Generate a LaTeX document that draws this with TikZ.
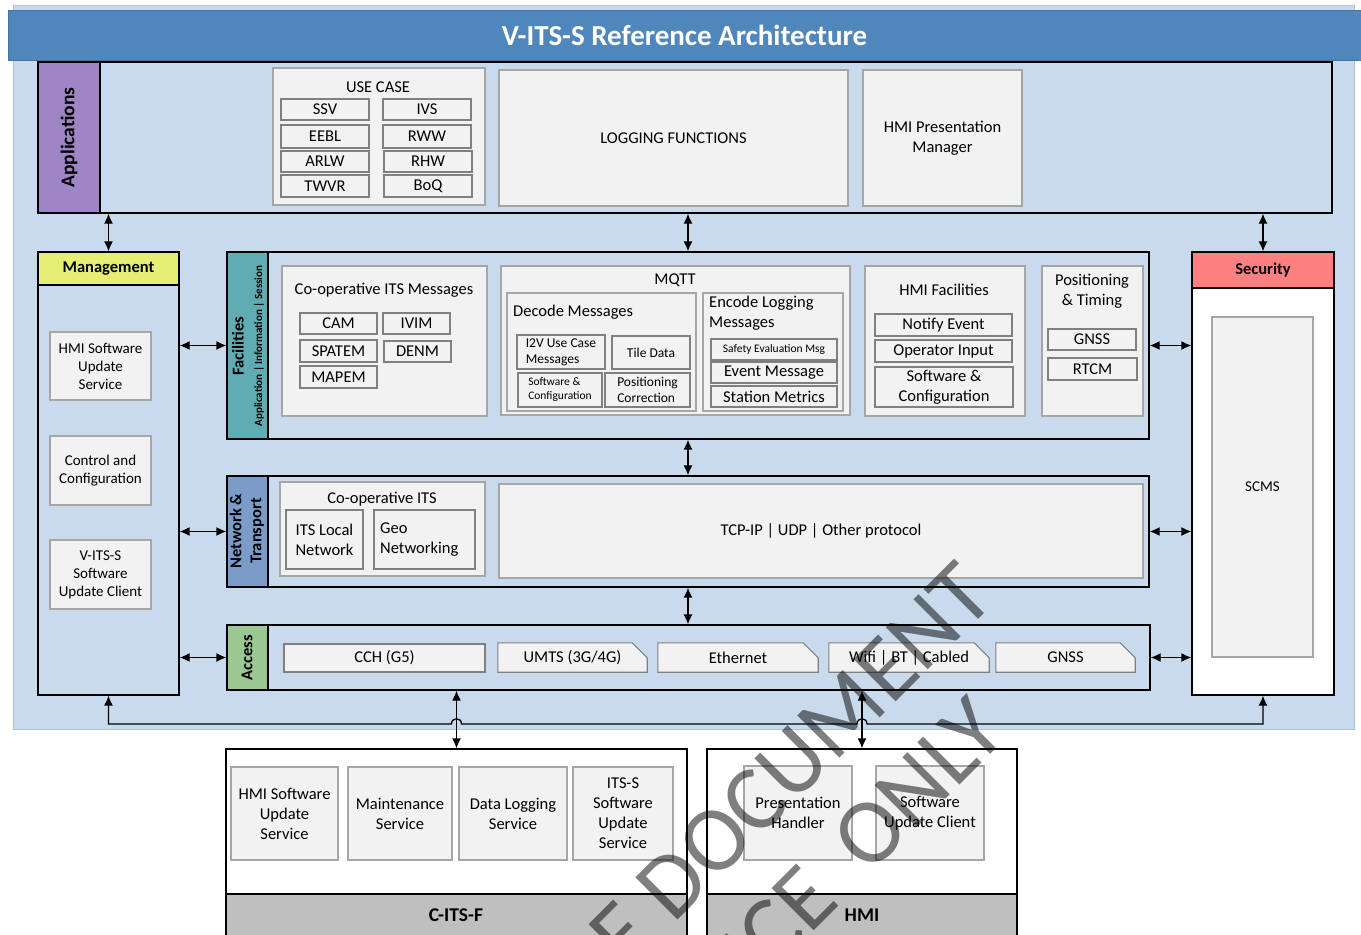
\documentclass[tikz,border=0pt]{standalone}
\usepackage{fontspec}
\setmainfont{Carlito}
\usetikzlibrary{arrows.meta,fit,calc}

\definecolor{bgblue}{RGB}{200,218,235}
\definecolor{bgline}{RGB}{170,196,226}
\definecolor{titleblue}{RGB}{79,135,189}
\definecolor{boxfill}{RGB}{242,242,242}
\definecolor{boxline}{RGB}{166,166,166}
\definecolor{subline}{RGB}{128,128,128}
\definecolor{appcol}{RGB}{158,133,197}
\definecolor{mgmtcol}{RGB}{230,238,115}
\definecolor{faccol}{RGB}{95,172,178}
\definecolor{netcol}{RGB}{123,156,200}
\definecolor{acccol}{RGB}{155,199,147}
\definecolor{seccol}{RGB}{255,128,128}
\definecolor{footcol}{RGB}{191,191,191}

\newcommand\ftitle{\fontsize{29}{34}\selectfont\bfseries}
\newcommand\ftxt{\fontsize{16.5}{20}\selectfont}
\newcommand\fmgm{\fontsize{15}{18}\selectfont}
\newcommand\fmid{\fontsize{13.5}{16}\selectfont}
\newcommand\fsml{\fontsize{11.5}{14}\selectfont}
\newcommand\fsess{\fontsize{11}{13}\selectfont\bfseries}
\newcommand\flab{\fontsize{19.5}{23}\selectfont\bfseries}
\newcommand\fwm{\fontsize{93}{100}\selectfont}

\tikzset{
  layer/.style={draw=black, line width=1.3pt, fill=bgblue, inner sep=0pt},
  strip/.style={draw=black, line width=1.3pt, inner sep=0pt},
  whitebox/.style={draw=black, line width=1.3pt, fill=white, inner sep=0pt},
  cont/.style={draw=boxline, line width=1.3pt, fill=boxfill, inner sep=0pt},
  item/.style={draw=subline, line width=1.1pt, fill=boxfill, inner sep=0pt},
  snipbox/.style={draw=subline, line width=1.1pt, fill=boxfill},
  lbl/.style={inner sep=0pt, font=\ftxt, align=center},
  biarrow/.style={line width=1.3pt, arrows={Latex[length=10pt,width=9pt]-Latex[length=10pt,width=9pt]}},
  wmark/.style={font=\fwm, text=black, opacity=0.5, rotate=45, anchor=base east, inner sep=0pt}
}

% box drawn from two corners, with its text centred on it
\newcommand\mkbox[5][]{%
  \node[#2, fit={#3}] (#4) {};
  \node[lbl,#1] at (#4.center) {#5};}

\begin{document}
\begin{tikzpicture}[x=1pt,y=-1pt]
\useasboundingbox (0,0) rectangle (1361,935);
\clip (0,0) rectangle (1361,935);
\fill[white] (0,0) rectangle (1361,935);

% background
\filldraw[fill=bgblue, draw=bgline, line width=1pt] (13,5) rectangle (1354,729);

% title bar
\node[fit={(8,10) (1361,60)}, inner sep=0pt, fill=titleblue, draw=titleblue!85!black, line width=0.6pt] (title) {};
\node[lbl, text=white, font=\ftitle] at (title.center) {V-ITS-S Reference Architecture};

% ---------------- Applications ----------------
\node[layer, fit={(38,62) (1332,213)}] (app) {};
\node[strip, fill=appcol, fit={(38,62) (100,213)}] (appstrip) {};
\node[rotate=90, font=\flab, inner sep=0pt] (applbl) at (appstrip.center) {Applications};

\node[cont, fit={(273,68) (485,205)}] (uc) {};
\node[lbl] (uclbl) at (378,87) {USE CASE};
\mkbox{item}{(281,99) (369,120)}{ssv}{SSV}
\mkbox{item}{(383,99) (471,120)}{ivs}{IVS}
\mkbox{item}{(281,125) (369,148)}{eebl}{EEBL}
\mkbox{item}{(383,125) (471,148)}{rww}{RWW}
\mkbox{item}{(281,151) (369,172)}{arlw}{ARLW}
\mkbox{item}{(384,151) (472,172)}{rhw}{RHW}
\mkbox{item}{(281,175) (369,197)}{twvr}{TWVR}
\mkbox{item}{(384,175) (472,197)}{boq}{BoQ}

\mkbox{cont}{(499,70) (848,206)}{log}{LOGGING FUNCTIONS}
\mkbox{cont}{(863,70) (1022,206)}{hpm}{HMI Presentation\\Manager}

% ---------------- Management ----------------
\node[layer, fit={(38,252) (179,695)}] (mgmt) {};
\mkbox[font=\ftxt\bfseries]{strip, fill=mgmtcol}{(38,252) (179,285)}{mgmthead}{Management}
\mkbox[font=\fmgm]{cont}{(50,332) (151,400)}{mhmi}{HMI Software\\Update\\Service}
\mkbox[font=\fmgm]{cont}{(50,436) (151,505)}{mctl}{Control and\\Configuration}
\mkbox[font=\fmgm]{cont}{(50,540) (151,609)}{mvits}{V-ITS-S\\Software\\Update Client}

% ---------------- Facilities ----------------
\node[layer, fit={(227,252) (1149,439)}] (fac) {};
\node[strip, fill=faccol, fit={(227,252) (268,439)}] (facstrip) {};
\node[rotate=90, font=\ftxt\bfseries, inner sep=0pt] (faclbl) at (238,346) {Facilities};
\node[rotate=90, font=\fsess, inner sep=0pt] (facsub) at (259,346) {Application | Information | Session};

\node[cont, fit={(282,266) (487,416)}] (cim) {};
\node[lbl] (cimlbl) at (384,290) {Co-operative ITS Messages};
\mkbox{item}{(300,313) (377,334)}{cam}{CAM}
\mkbox{item}{(383,313) (450,334)}{ivim}{IVIM}
\mkbox{item}{(300,340) (377,362)}{spatem}{SPATEM}
\mkbox{item}{(384,341) (451,362)}{denm}{DENM}
\mkbox{item}{(300,366) (377,388)}{mapem}{MAPEM}

\node[cont, fit={(501,266) (850,415)}] (mqtt) {};
\node[lbl] (mqttlbl) at (675,280) {MQTT};
\node[cont, fit={(507,293) (696,411)}] (dec) {};
\node[lbl, anchor=west] (declbl) at (513,312) {Decode Messages};
\mkbox[font=\fmid, align=left]{item}{(517,335) (605,369)}{i2v}{I2V Use Case\\Messages}
\mkbox[font=\fmid]{item}{(612,336) (690,369)}{tile}{Tile Data}
\mkbox[font=\fsml, align=left]{item}{(518,373) (602,407)}{dsw}{Software \&\\Configuration}
\mkbox[font=\fmid, align=left]{item}{(605,373) (690,407)}{poscor}{Positioning\\Correction}

\node[cont, fit={(703,293) (843,411)}] (enc) {};
\node[lbl, anchor=west, align=left] (enclbl) at (709,313) {Encode Logging\\Messages};
\mkbox[font=\fsml]{item}{(711,339) (837,360)}{safety}{Safety Evaluation Msg}
\mkbox{item}{(711,362) (837,383)}{event}{Event Message}
\mkbox{item}{(711,386) (837,407)}{station}{Station Metrics}

\node[cont, fit={(865,266) (1025,416)}] (hmif) {};
\node[lbl] (hmiflbl) at (944,290) {HMI Facilities};
\mkbox{item}{(875,314) (1012,336)}{notify}{Notify Event}
\mkbox{item}{(875,340) (1012,362)}{opin}{Operator Input}
\mkbox{item}{(875,367) (1013,407)}{hsw}{Software \&\\Configuration}

\node[cont, fit={(1042,266) (1143,416)}] (pt) {};
\node[lbl] (ptlbl) at (1092,291) {Positioning\\\& Timing};
\mkbox{item}{(1048,329) (1136,350)}{gnss1}{GNSS}
\mkbox{item}{(1048,358) (1137,380)}{rtcm}{RTCM}

% ---------------- Network & Transport ----------------
\node[layer, fit={(227,476) (1149,587)}] (net) {};
\node[strip, fill=netcol, fit={(227,476) (268,587)}] (netstrip) {};
\node[rotate=90, font=\ftxt\bfseries, align=center, inner sep=0pt] (netlbl) at (247,531) {Network \&\\Transport};

\node[cont, fit={(280,482) (485,576)}] (cits) {};
\node[lbl] (citslbl) at (382,499) {Co-operative ITS};
\mkbox{item}{(286,510) (363,569)}{itsl}{ITS Local\\Network}
\node[item, fit={(374,510) (475,569)}] (geo) {};
\node[lbl, anchor=west, align=left] (geolbl) at (380,540) {Geo\\Networking};
\mkbox{cont}{(499,484) (1143,578)}{tcp}{TCP-IP | UDP | Other protocol}

% ---------------- Access ----------------
\node[layer, fit={(227,625) (1150,690)}] (acc) {};
\node[strip, fill=acccol, fit={(227,625) (268,690)}] (accstrip) {};
\node[rotate=90, font=\ftxt\bfseries, inner sep=0pt] (acclbl) at (247,658) {Access};

\mkbox{item}{(284,644) (485,672)}{cch}{CCH (G5)}
\foreach \nm/\xa/\xb/\tx in {umts/498/647/{UMTS (3G/4G)}, eth/658/818/{Ethernet}, wifi/829/989/{Wifi | BT | Cabled}, gnss2/996/1135/{GNSS}}{
  \node[fit={(\xa,643) (\xb,672)}, inner sep=0pt] (\nm) {};
  \filldraw[snipbox] (\nm.south west) -- (\nm.north west) -- ([xshift=-15pt]\nm.north east)
     -- ([yshift=-15pt]\nm.north east) -- (\nm.south east) -- cycle;
  \node[lbl] at (\nm.center) {\tx};
}

% ---------------- Security ----------------
\node[whitebox, fit={(1192,252) (1334,695)}] (sec) {};
\mkbox[font=\ftxt\bfseries]{strip, fill=seccol}{(1192,252) (1334,288)}{sechead}{Security}
\mkbox[font=\fmgm]{cont}{(1212,317) (1313,657)}{scms}{SCMS}

% ---------------- C-ITS-F ----------------
\node[whitebox, fit={(226,749) (687,950)}] (citsf) {};
\node[strip, fill=footcol, fit={(226,894) (687,950)}] (citsffoot) {};
\node[font=\flab, inner sep=0pt] (citsflbl) at (456,915) {C-ITS-F};
\mkbox{cont}{(231,767) (338,860)}{chmi}{HMI Software\\Update\\Service}
\mkbox{cont}{(348,767) (452,860)}{cmaint}{Maintenance\\Service}
\mkbox{cont}{(459,767) (567,860)}{cdata}{Data Logging\\Service}
\mkbox{cont}{(573,767) (673,860)}{csw}{ITS-S\\Software\\Update\\Service}

% ---------------- HMI ----------------
\node[whitebox, fit={(707,749) (1017,950)}] (hmi) {};
\node[strip, fill=footcol, fit={(707,894) (1017,950)}] (hmifoot) {};
\node[font=\flab, inner sep=0pt] (hmilbl) at (862,915) {HMI};
\mkbox{cont}{(744,766) (852,860)}{pres}{Presentation\\Handler}
\mkbox{cont}{(876,766) (984,860)}{swuc}{Software\\Update Client}

% ---------------- connectors ----------------
\draw[biarrow] (app.south -| mgmt.north) -- (mgmt.north);
\draw[biarrow] (app.south -| fac.north) -- (fac.north);
\draw[biarrow] (app.south -| sec.north) -- (sec.north);
\draw[biarrow] (fac.south) -- (fac.south |- net.north);
\draw[biarrow] (net.south) -- (net.south |- acc.north);

\draw[biarrow] (mgmt.east |- fac.west) -- (fac.west);
\draw[biarrow] (mgmt.east |- net.west) -- (net.west);
\draw[biarrow] (mgmt.east |- acc.west) -- (acc.west);
\draw[biarrow] (fac.east) -- (sec.west |- fac.east);
\draw[biarrow] (net.east) -- (sec.west |- net.east);
\draw[biarrow] (acc.east) -- (sec.west |- acc.east);

\coordinate (busY) at (0,724);
\coordinate (hopA) at (citsf.north |- busY);
\coordinate (hopB) at (hmi.north |- busY);
\draw[biarrow] (mgmt.south) -- (mgmt.south |- busY)
  -- ($(hopA)+(-5,0)$) .. controls ($(hopA)+(-5,-7)$) and ($(hopA)+(5,-7)$) .. ($(hopA)+(5,0)$)
  -- ($(hopB)+(-5,0)$) .. controls ($(hopB)+(-5,-7)$) and ($(hopB)+(5,-7)$) .. ($(hopB)+(5,0)$)
  -- (sec.south |- busY) -- (sec.south);
\draw[biarrow] (acc.south -| citsf.north) -- (citsf.north);
\draw[biarrow] (acc.south -| hmi.north) -- (hmi.north);

% ---------------- watermark ----------------
\node[wmark] (wm1) at (998,600) {SAMPLE DOCUMENT};
\node[wmark] (wm2) at (1010,735) {REFERENCE\hspace{40pt}ONLY};
\end{tikzpicture}
\end{document}
